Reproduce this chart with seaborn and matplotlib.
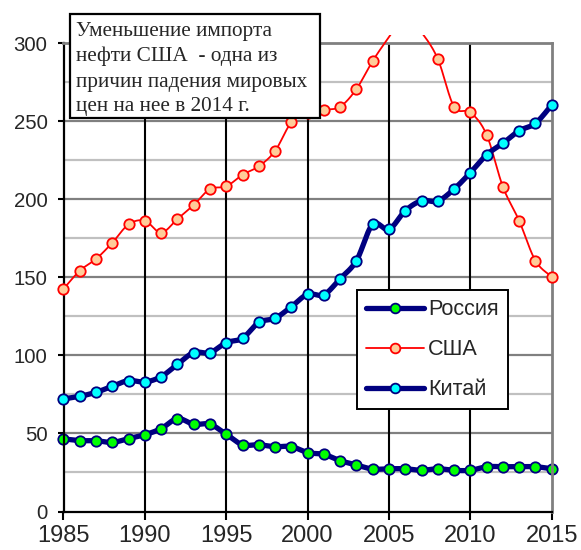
import numpy as np
import pandas as pd
import matplotlib
matplotlib.use("Agg")
import matplotlib.pyplot as plt
from matplotlib.lines import Line2D
from matplotlib.patches import Rectangle
import seaborn as sns

# Oil imports by country, 1985-2015
years = list(range(1985, 2016))
russia = [46.5, 45.4, 45.4, 44.3, 46.7, 49.2, 53.1, 59.5, 55.9, 55.9, 49.5,
          42.8, 42.8, 41.5, 41.6, 37.7, 36.6, 32.6, 29.8, 27.2, 27.4, 27.4,
          26.4, 27.4, 26.4, 26.4, 28.7, 28.7, 28.7, 28.7, 27.4]
usa = [142.6, 154.3, 161.8, 172.2, 184.0, 186.3, 178.7, 187.4, 196.4, 206.6,
       208.3, 215.8, 221.2, 231.0, 249.3, 255.5, 257.3, 259.4, 270.7, 288.7,
       304.0, 318.0, 307.0, 290.0, 259.4, 255.8, 241.4, 208.1, 186.3, 160.7,
       150.5]
china = [72.1, 73.8, 76.4, 80.2, 83.9, 83.0, 86.4, 94.3, 101.8, 101.8, 108.2,
         111.0, 121.2, 123.8, 131.2, 139.2, 138.9, 149.2, 160.7, 184.0, 180.8,
         192.7, 199.1, 198.9, 206.6, 217.1, 228.6, 235.9, 244.0, 248.7, 260.5]

series_names = ["Россия", "США", "Китай"]
note_lines = ["Уменьшение импорта", "нефти США  - одна из",
              "причин падения мировых", "цен на нее в 2014 г."]

W, H = 581, 550
DPI = 100

NAVY = "#000080"
styles = {
    "Россия": dict(color=NAVY, lw=3.8, face="#00FF00", edge=NAVY),
    "США": dict(color="#FF0000", lw=1.3, face="#FFCC99", edge="#FF0000"),
    "Китай": dict(color=NAVY, lw=3.8, face="#00FFFF", edge=NAVY),
}


def smooth_curve(xs, ys, n=24):
    """Bezier smoothing through every point (Catmull-Rom style control points)."""
    P = np.column_stack([xs, ys]).astype(float)
    P = np.vstack([P[0], P, P[-1]])
    parts = []
    t = np.linspace(0, 1, n, endpoint=False)[:, None]
    for i in range(1, len(P) - 2):
        p0, p1, p2, p3 = P[i - 1], P[i], P[i + 1], P[i + 2]
        c1 = p1 + (p2 - p0) / 6.0
        c2 = p2 - (p3 - p1) / 6.0
        parts.append((1 - t) ** 3 * p1 + 3 * (1 - t) ** 2 * t * c1
                     + 3 * (1 - t) * t ** 2 * c2 + t ** 3 * p2)
    parts.append(P[-2][None, :])
    pts = np.vstack(parts)
    return pts[:, 0], pts[:, 1]


sns.set_theme(style="white")
plt.rcParams["font.family"] = ["Liberation Sans", "DejaVu Sans"]

fig = plt.figure(figsize=(W / DPI, H / DPI), dpi=DPI)
ax = fig.add_axes([63.5 / W, 1 - 511.5 / H, (551.7 - 63.5) / W, (511.5 - 43.3) / H])

ax.set_xlim(1985, 2015)
ax.set_ylim(0, 300)

# grid: light lines at 25, darker at 50, black verticals every 5 years
for v in range(25, 300, 50):
    ax.axhline(v, color="#C0C0C0", lw=1.6, zorder=0.5)
for v in range(50, 300, 50):
    ax.axhline(v, color="#808080", lw=1.6, zorder=0.6)
for yr in range(1990, 2015, 5):
    ax.axvline(yr, color="black", lw=1.5, zorder=0.7)

clip_rect = Rectangle((1980, -20), 40, 325, transform=ax.transData)

data = {"Россия": russia, "США": usa, "Китай": china}
z = 2
for name in series_names:
    st = styles[name]
    sx, sy = smooth_curve(years, data[name])
    curve = pd.DataFrame({"year": sx, "value": sy})
    n_before = len(ax.lines)
    sns.lineplot(data=curve, x="year", y="value", sort=False, estimator=None,
                 color=st["color"], lw=st["lw"], ax=ax, zorder=z)
    for ln in ax.lines[n_before:]:
        ln.set_clip_path(clip_rect)
    pts = pd.DataFrame({"year": years, "value": data[name]})
    pts = pts[pts["value"] <= 300]
    sns.scatterplot(data=pts, x="year", y="value", s=56, color=st["face"],
                    edgecolor=st["edge"], linewidth=1.3, ax=ax,
                    zorder=z + 0.5, clip_on=False)
    z += 1

ax.set_xlabel("")
ax.set_ylabel("")
ax.set_xticks(range(1985, 2016, 5))
ax.set_yticks(range(0, 301, 50))
ax.tick_params(axis="x", labelsize=17, length=6, width=1.5, pad=4,
               direction="out", color="black", bottom=True)
ax.tick_params(axis="y", labelsize=14.7, length=4.5, width=1.5, pad=7,
               direction="out", color="black", left=True)

for side in ["left", "bottom"]:
    ax.spines[side].set_color("black")
    ax.spines[side].set_linewidth(1.6)
for side in ["top", "right"]:
    ax.spines[side].set_color("#808080")
    ax.spines[side].set_linewidth(2.0)
    ax.spines[side].set_visible(True)

# legend
handles = []
for name in series_names:
    st = styles[name]
    handles.append(Line2D([0], [0], color=st["color"], lw=st["lw"], marker="o",
                          markersize=7, markerfacecolor=st["face"],
                          markeredgecolor=st["edge"], markeredgewidth=1.3))
leg = ax.legend(handles, series_names, loc="upper left",
                bbox_to_anchor=(357 / W, 1 - 290 / H),
                bbox_transform=fig.transFigure, frameon=True, fancybox=False,
                fontsize=15.6, handlelength=2.65, handletextpad=0.2,
                labelspacing=0.88, borderpad=0.42, numpoints=1,
                borderaxespad=0)
frame = leg.get_frame()
frame.set_edgecolor("black")
frame.set_linewidth(1.4)
frame.set_facecolor("white")
frame.set_alpha(1)
leg.set_zorder(10)

# annotation box
box = Rectangle((70 / W, 1 - 118 / H), 250 / W, 104 / H,
                transform=fig.transFigure, facecolor="white",
                edgecolor="black", lw=1.6, zorder=20)
fig.add_artist(box)
for txt, base in zip(note_lines, [36, 61.5, 86.5, 111]):
    fig.text(76 / W, 1 - base / H, txt, family=["Liberation Serif", "DejaVu Serif"],
             fontsize=15.3, va="baseline", ha="left", zorder=21)

fig.savefig("out.png", dpi=DPI)
